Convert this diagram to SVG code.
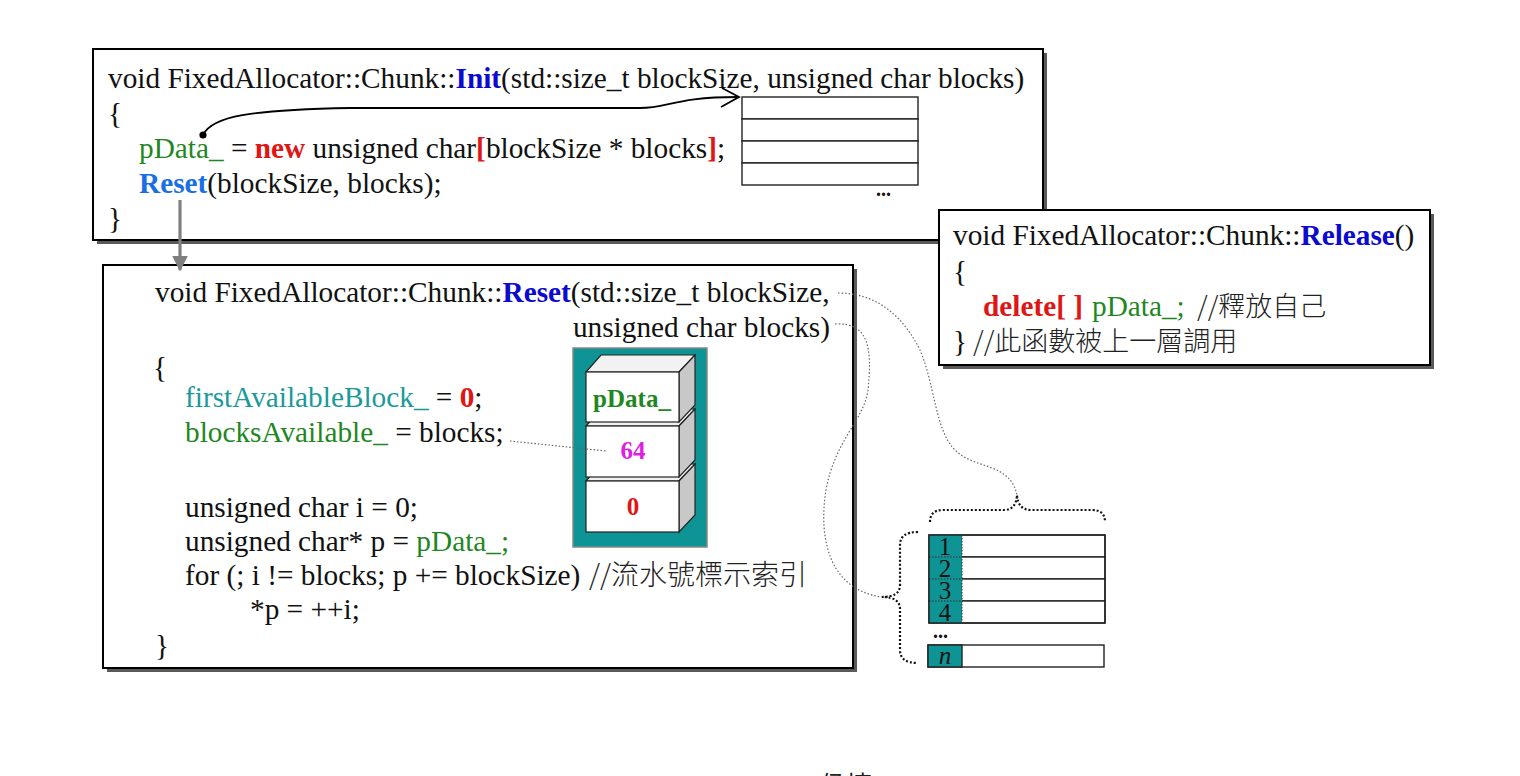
<svg xmlns="http://www.w3.org/2000/svg" width="1520" height="776" viewBox="0 0 1520 776">
<defs>
<style>
.t{font-family:"Liberation Serif","Times New Roman","Noto Sans CJK TC",serif;font-size:29.3px;fill:#111}
.cjk{font-family:"Noto Sans CJK TC","Noto Sans CJK SC",sans-serif;font-size:27px;font-weight:300;fill:#222}
.b{font-weight:bold}
.blue{fill:#0a0ad0}
.lblue{fill:#1b6fe6}
.red{fill:#e01515}
.green{fill:#1f871f}
.teal{fill:#1a9a9a}
.mag{fill:#e020e0}
.box{fill:#fff;stroke:#000;stroke-width:2}
.shadow{fill:#5a5a5a}
.cell{fill:#fff;stroke:#222;stroke-width:1.4}
.face{stroke:#222;stroke-width:1.2}
.dots{fill:none;stroke:#666;stroke-width:1.2;stroke-dasharray:1.5 2}
.brace{fill:none;stroke:#111;stroke-width:2.2;stroke-dasharray:2 2}
.num{font-family:"Liberation Serif","Times New Roman",serif;font-size:25px;fill:#111}
.sb{font-family:"Liberation Serif","Times New Roman",serif;font-size:25px;font-weight:bold}
</style>
<marker id="grayhead" viewBox="0 0 10 10" refX="9" refY="5" markerWidth="5" markerHeight="5" orient="auto" markerUnits="strokeWidth">
<path d="M0,0 L10,5 L0,10 Z" fill="#808080"/>
</marker>
</defs>
<rect width="1520" height="776" fill="#fff"/>

<!-- Init box -->
<g id="init-box">
<rect class="shadow" x="97" y="53" width="950" height="191"/>
<rect class="box" x="93" y="49" width="950" height="191"/>
<text class="t" x="108" y="88">void FixedAllocator::Chunk::<tspan class="b blue">Init</tspan>(std::size_t blockSize, unsigned char blocks)</text>
<text class="t" x="108" y="123">{</text>
<text class="t" x="139" y="158"><tspan class="green">pData_</tspan> = <tspan class="b red">new</tspan> unsigned char<tspan class="b red">[</tspan>blockSize * blocks<tspan class="b red">]</tspan>;</text>
<text class="t" x="139" y="193"><tspan class="b lblue">Reset</tspan>(blockSize, blocks);</text>
<text class="t" x="108" y="228">}</text>
</g>

<!-- allocated memory in Init box -->
<g id="init-memory">
<rect class="cell" x="742" y="97" width="176" height="22"/>
<rect class="cell" x="742" y="119" width="176" height="22"/>
<rect class="cell" x="742" y="141" width="176" height="22"/>
<rect class="cell" x="742" y="163" width="176" height="22"/>
<text class="t b" x="876" y="196" style="font-size:20px">...</text>
</g>

<!-- Release box -->
<g id="release-box">
<rect class="shadow" x="943" y="214" width="491" height="155"/>
<rect class="box" x="939" y="210" width="491" height="155"/>
<text class="t" x="953" y="245">void FixedAllocator::Chunk::<tspan class="b blue">Release</tspan>()</text>
<text class="t" x="953" y="281">{</text>
<text class="t" x="983" y="316"><tspan class="b red">delete[ ]</tspan><tspan class="green" x="1092">pData_;</tspan><tspan class="cjk" x="1197">//釋放自己</tspan></text>
<text class="t" x="953" y="351">}<tspan class="cjk" x="973">//此函數被上一層調用</tspan></text>
</g>

<!-- Reset box -->
<g id="reset-box">
<rect class="shadow" x="107" y="269" width="750" height="403"/>
<rect class="box" x="103" y="265" width="750" height="403"/>
<text class="t" x="155" y="302">void FixedAllocator::Chunk::<tspan class="b blue">Reset</tspan>(std::size_t blockSize,</text>
<text class="t" x="830" y="337" text-anchor="end">unsigned char blocks)</text>
<text class="t" x="153" y="377">{</text>
<text class="t" x="185" y="407"><tspan class="teal">firstAvailableBlock_</tspan> = <tspan class="b red">0</tspan>;</text>
<text class="t" x="185" y="442"><tspan class="green">blocksAvailable_</tspan> = blocks;</text>
<text class="t" x="185" y="517">unsigned char i = 0;</text>
<text class="t" x="185" y="551">unsigned char* p = <tspan class="green">pData_;</tspan></text>
<text class="t" x="185" y="585">for (; i != blocks; p += blockSize) <tspan class="cjk" x="589" style="font-size:28px">//流水號標示索引</tspan></text>
<text class="t" x="250" y="619">*p = ++i;</text>
<text class="t" x="155" y="655">}</text>
</g>

<!-- Chunk object stack -->
<g id="chunk-stack">
<rect x="573" y="348" width="134" height="199" fill="#0e9494" stroke="#888" stroke-width="1.5"/>
<polygon class="face" points="586,481 601,464 695,464 679,481" fill="#f2f2f2"/>
<polygon class="face" points="679,481 695,464 695,515 679,532" fill="#c8c8c8"/>
<rect class="face" x="586" y="481" width="93" height="51" fill="#fff"/>
<polygon class="face" points="586,426 601,409 695,409 679,426" fill="#f2f2f2"/>
<polygon class="face" points="679,426 695,409 695,460 679,477" fill="#c8c8c8"/>
<rect class="face" x="586" y="426" width="93" height="51" fill="#fff"/>
<polygon class="face" points="586,372 601,355 695,355 679,372" fill="#f2f2f2"/>
<polygon class="face" points="679,372 695,355 695,405 679,422" fill="#c8c8c8"/>
<rect class="face" x="586" y="372" width="93" height="50" fill="#fff"/>
<text class="sb green" x="632" y="407" text-anchor="middle">pData_</text>
<text class="sb mag" x="633" y="459" text-anchor="middle">64</text>
<text class="sb red" x="633" y="515" text-anchor="middle">0</text>
</g>

<!-- block table -->
<g id="block-table">
<rect class="cell" x="929" y="535" width="176" height="22"/>
<rect class="cell" x="929" y="557" width="176" height="22"/>
<rect class="cell" x="929" y="579" width="176" height="22"/>
<rect class="cell" x="929" y="601" width="176" height="22"/>
<rect x="929" y="535" width="33" height="88" fill="#0e9494"/>
<path d="M929,557 H962 M929,579 H962 M929,601 H962" stroke="#333" stroke-width="1" stroke-dasharray="1.5 1.5"/>
<line x1="962" y1="535" x2="962" y2="623" stroke="#333" stroke-width="1" stroke-dasharray="1.5 1.5"/>
<rect x="929" y="535" width="176" height="88" fill="none" stroke="#222" stroke-width="1.4"/>
<text class="num" x="945" y="555" text-anchor="middle">1</text>
<text class="num" x="945" y="577" text-anchor="middle">2</text>
<text class="num" x="945" y="599" text-anchor="middle">3</text>
<text class="num" x="945" y="621" text-anchor="middle">4</text>
<text class="t b" x="933" y="638" style="font-size:20px">...</text>
<rect class="cell" x="928" y="645" width="176" height="22"/>
<rect x="928" y="645" width="34" height="22" fill="#0e9494" stroke="#222" stroke-width="1.4"/>
<text class="num" x="945" y="664" text-anchor="middle" font-style="italic">n</text>
</g>

<!-- connectors -->
<g id="connectors">
<path d="M203,135 C212,116 250,110 350,108 L640,108 C668,108 675,97 738,97" fill="none" stroke="#000" stroke-width="1.8"/>
<path d="M722,88 L739,97 L721,107" fill="none" stroke="#000" stroke-width="1.8"/>
<circle cx="203" cy="135" r="3.6" fill="#000"/>
<line x1="180" y1="200" x2="180" y2="270" stroke="#808080" stroke-width="3.2" marker-end="url(#grayhead)"/>
<path class="dots" d="M510,441 L606,451"/>
<path class="dots" d="M838,293 C880,293 905,320 920,350 C935,385 935,430 955,450 C975,470 1010,462 1017,495"/>
<path class="dots" d="M835,324 C870,322 872,350 868,390 C864,420 835,440 826,490 C818,540 830,590 882,597"/>
<path class="brace" d="M930,522 Q930,510 943,510 L1004,510 Q1016,510 1017,495 Q1018,510 1031,510 L1092,510 Q1105,510 1105,522"/>
<path class="brace" d="M918,532 Q900,532 900,545 L900,585 Q900,597 882,597 Q900,597 900,609 L900,650 Q900,663 918,663"/>
</g>

<text x="820" y="795" style="font-family:'Noto Sans CJK TC','Noto Sans CJK SC',sans-serif;font-size:26px;fill:#222">侯捷</text>
</svg>
